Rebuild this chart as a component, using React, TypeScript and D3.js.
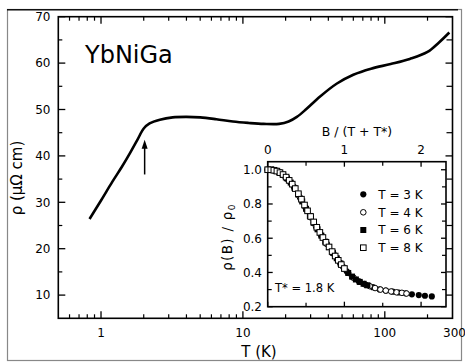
import React from "react";
import * as d3 from "d3";

// ---- Main curve: resistivity vs temperature ----
const mainT = [0.83, 1.0, 1.2, 1.4, 1.6, 1.8, 2.0, 2.2, 2.6, 3.2, 4.0, 5.0, 6.5, 8.5, 11, 14, 18, 21, 24, 28, 35, 46, 60, 80, 110, 150, 200, 240, 285];
const mainRho = [26.4, 30.4, 34.4, 37.6, 40.6, 43.4, 45.9, 47.0, 47.8, 48.3, 48.4, 48.3, 47.9, 47.4, 47.1, 46.9, 46.9, 47.4, 48.4, 50.1, 52.8, 55.6, 57.5, 58.8, 59.8, 60.9, 62.4, 64.4, 66.6];
const mainXMajor = [1, 10, 100];
const mainXMinor = [0.6, 0.7, 0.8, 0.9, 2, 3, 4, 5, 6, 7, 8, 9, 20, 30, 40, 50, 60, 70, 80, 90, 200];
const mainXLabels = ["1", "10", "100", "300"];
const mainXLabelVals = [1, 10, 100, 300];
const mainYMajor = [10, 20, 30, 40, 50, 60, 70];
const mainYMinor = [15, 25, 35, 45, 55, 65];
const arrowT = 2.03;
const arrowFrom = 36.0;
const arrowTo = 43.5;

// ---- Inset: scaled magnetoresistance ----
const b3 = [0, 0.09, 0.17, 0.26, 0.34, 0.43, 0.51, 0.6, 0.69, 0.77, 0.86, 0.94, 1.03, 1.11, 1.2, 1.28, 1.37, 1.46, 1.54, 1.63, 1.71, 1.8, 1.88, 1.97, 2.05, 2.14];
const r3 = [1.0, 0.997, 0.98, 0.945, 0.9, 0.83, 0.764, 0.69, 0.622, 0.567, 0.509, 0.458, 0.407, 0.372, 0.345, 0.328, 0.314, 0.301, 0.294, 0.288, 0.283, 0.278, 0.272, 0.268, 0.264, 0.26];
const b4 = [0, 0.07, 0.14, 0.21, 0.28, 0.35, 0.42, 0.49, 0.56, 0.63, 0.7, 0.77, 0.84, 0.91, 0.98, 1.05, 1.12, 1.19, 1.26, 1.33, 1.4, 1.47, 1.54, 1.61, 1.68, 1.75, 1.81];
const r4 = [1.0, 0.999, 0.988, 0.966, 0.935, 0.893, 0.839, 0.781, 0.722, 0.667, 0.615, 0.567, 0.521, 0.477, 0.434, 0.397, 0.369, 0.348, 0.332, 0.32, 0.309, 0.3, 0.294, 0.289, 0.284, 0.281, 0.277];
const b6 = [0, 0.05, 0.1, 0.15, 0.2, 0.25, 0.3, 0.35, 0.4, 0.45, 0.5, 0.55, 0.6, 0.65, 0.7, 0.75, 0.8, 0.85, 0.9, 0.95, 1.0, 1.05, 1.1, 1.15, 1.2, 1.25, 1.3];
const r6 = [1.0, 1.0, 0.995, 0.985, 0.97, 0.95, 0.925, 0.893, 0.855, 0.815, 0.772, 0.73, 0.69, 0.652, 0.615, 0.58, 0.548, 0.515, 0.483, 0.452, 0.423, 0.397, 0.376, 0.359, 0.345, 0.334, 0.325];
const b8 = [0, 0.04, 0.08, 0.12, 0.16, 0.2, 0.24, 0.28, 0.32, 0.36, 0.4, 0.44, 0.48, 0.52, 0.56, 0.6, 0.64, 0.68, 0.72, 0.76, 0.8, 0.84, 0.88, 0.92, 0.96, 1.0];
const r8 = [1.0, 1.0, 0.997, 0.992, 0.983, 0.972, 0.957, 0.938, 0.916, 0.89, 0.86, 0.828, 0.794, 0.76, 0.727, 0.695, 0.664, 0.634, 0.604, 0.576, 0.549, 0.522, 0.496, 0.471, 0.446, 0.423];
const insetXMajor = [0, 1, 2];
const insetXMinor = [0.5, 1.5];
const insetYMajor = [0.2, 0.4, 0.6, 0.8, 1.0];
const insetYMinor = [0.3, 0.5, 0.7, 0.9];
const legendLabels = ["T = 3 K", "T = 4 K", "T = 6 K", "T = 8 K"];

const FONT = "'DejaVu Sans', sans-serif";

type Marker = "fcircle" | "ocircle" | "fsquare" | "osquare";
const markers: Marker[] = ["fcircle", "ocircle", "fsquare", "osquare"];

function Mark({ kind, x, y }: { kind: Marker; x: number; y: number }) {
  if (kind === "fcircle") return <circle cx={x} cy={y} r={3.1} fill="#000" />;
  if (kind === "ocircle") return <circle cx={x} cy={y} r={2.8} fill="#fff" stroke="#000" strokeWidth={1} />;
  if (kind === "fsquare") return <rect x={x - 3} y={y - 3} width={6} height={6} fill="#000" />;
  return <rect x={x - 2.8} y={y - 2.8} width={5.6} height={5.6} fill="#fff" stroke="#000" strokeWidth={1} />;
}

export default function App() {
  // main scales
  const L = 58.3, R = 452.5, T = 16.7, B = 318.3;
  const x = d3.scaleLog().domain([0.5, 300]).range([L, R]);
  const y = d3.scaleLinear().domain([5, 70]).range([B, T]);

  const mainData = mainT.map((t, i) => [t, mainRho[i]] as [number, number]);
  const line = d3
    .line<[number, number]>()
    .x((d) => x(d[0]))
    .y((d) => y(d[1]))
    .curve(d3.curveCatmullRom.alpha(0.5));

  // inset scales
  const iL = 267.7, iR = 446, iT = 161.7, iB = 306.7;
  const xi = d3.scaleLinear().domain([0, 2.325]).range([iL, iR]);
  const yi = d3.scaleLinear().domain([0.2, 1.047]).range([iB, iT]);

  const series = [
    { b: b3, r: r3 },
    { b: b4, r: r4 },
    { b: b6, r: r6 },
    { b: b8, r: r8 },
  ];

  const majLen = 7, minLen = 4;
  const ax = "#000";
  const aw = 1.6;

  const ax_ = x(arrowT);

  return (
    <svg
      width={465}
      height={363}
      style={{ position: "absolute", left: 0, top: 0, background: "#fff" }}
      fontFamily={FONT}
    >
      <rect x={0} y={0} width={465} height={363} fill="#fff" />
      {/* outer frame */}
      <rect x={7.5} y={9.5} width={454} height={351} fill="none" stroke="#888" strokeWidth={1.2} />
      <line x1={7} x2={458} y1={9.8} y2={9.8} stroke="#111" strokeWidth={1.5} />

      {/* main ticks */}
      {mainXMajor.map((v) => (
        <g key={"xM" + v}>
          <line x1={x(v)} x2={x(v)} y1={B} y2={B - majLen} stroke={ax} strokeWidth={1.3} />
          <line x1={x(v)} x2={x(v)} y1={T} y2={T + majLen} stroke={ax} strokeWidth={1.3} />
        </g>
      ))}
      {mainXMinor.map((v) => (
        <g key={"xm" + v}>
          <line x1={x(v)} x2={x(v)} y1={B} y2={B - minLen} stroke={ax} strokeWidth={1.2} />
          <line x1={x(v)} x2={x(v)} y1={T} y2={T + minLen} stroke={ax} strokeWidth={1.2} />
        </g>
      ))}
      {mainYMajor.map((v) => (
        <g key={"yM" + v}>
          <line x1={L} x2={L + majLen} y1={y(v)} y2={y(v)} stroke={ax} strokeWidth={1.3} />
          <line x1={R} x2={R - majLen} y1={y(v)} y2={y(v)} stroke={ax} strokeWidth={1.3} />
        </g>
      ))}
      {mainYMinor.map((v) => (
        <g key={"ym" + v}>
          <line x1={L} x2={L + minLen} y1={y(v)} y2={y(v)} stroke={ax} strokeWidth={1.2} />
          <line x1={R} x2={R - majLen + 1} y1={y(v)} y2={y(v)} stroke={ax} strokeWidth={1.2} />
        </g>
      ))}
      <rect x={L} y={T} width={R - L} height={B - T} fill="none" stroke={ax} strokeWidth={aw} />

      {/* main tick labels */}
      {mainYMajor.map((v) => (
        <text key={"yl" + v} x={50.5} y={y(v)} dy="0.36em" textAnchor="end" fontSize={12}>
          {v}
        </text>
      ))}
      {mainXLabelVals.map((v, i) => (
        <text key={"xl" + v} x={v === 300 ? x(v) + 2 : x(v)} y={337} textAnchor="middle" fontSize={12}>
          {mainXLabels[i]}
        </text>
      ))}
      <text x={259} y={357} textAnchor="middle" fontSize={15}>
        T (K)
      </text>
      <text transform="translate(22,178) rotate(-90)" textAnchor="middle" fontSize={15}>
        ρ (μΩ cm)
      </text>
      <text x={85} y={62.5} fontSize={24}>
        YbNiGa
      </text>

      {/* main curve */}
      <path d={line(mainData) || ""} fill="none" stroke="#000" strokeWidth={2.6} strokeLinejoin="round" />

      {/* arrow */}
      <line x1={ax_} x2={ax_} y1={y(arrowFrom)} y2={y(arrowTo) + 7} stroke="#000" strokeWidth={1.5} />
      <path
        d={`M${ax_},${y(arrowTo)} L${ax_ - 3},${y(arrowTo) + 9} L${ax_ + 3},${y(arrowTo) + 9} Z`}
        fill="#000"
      />

      {/* inset */}
      <rect x={iL} y={iT} width={iR - iL} height={iB - iT} fill="#fff" />
      {insetXMajor.map((v) => (
        <g key={"ixM" + v}>
          <line x1={xi(v)} x2={xi(v)} y1={iT} y2={iT + 5} stroke={ax} strokeWidth={1.3} />
          <line x1={xi(v)} x2={xi(v)} y1={iB} y2={iB - 5} stroke={ax} strokeWidth={1.3} />
          <text x={xi(v)} y={153.5} textAnchor="middle" fontSize={12}>
            {v}
          </text>
        </g>
      ))}
      {insetXMinor.map((v) => (
        <g key={"ixm" + v}>
          <line x1={xi(v)} x2={xi(v)} y1={iT} y2={iT + 4} stroke={ax} strokeWidth={1.2} />
          <line x1={xi(v)} x2={xi(v)} y1={iB} y2={iB - 4} stroke={ax} strokeWidth={1.2} />
        </g>
      ))}
      {insetYMajor.map((v) => (
        <g key={"iyM" + v}>
          <line x1={iL} x2={iL + 5} y1={yi(v)} y2={yi(v)} stroke={ax} strokeWidth={1.3} />
          <line x1={iR} x2={iR - 5} y1={yi(v)} y2={yi(v)} stroke={ax} strokeWidth={1.3} />
          <text x={262} y={yi(v)} dy="0.36em" textAnchor="end" fontSize={12}>
            {v.toFixed(1)}
          </text>
        </g>
      ))}
      {insetYMinor.map((v) => (
        <g key={"iym" + v}>
          <line x1={iL} x2={iL + 4} y1={yi(v)} y2={yi(v)} stroke={ax} strokeWidth={1.2} />
          <line x1={iR} x2={iR - 4} y1={yi(v)} y2={yi(v)} stroke={ax} strokeWidth={1.2} />
        </g>
      ))}
      <rect x={iL} y={iT} width={iR - iL} height={iB - iT} fill="none" stroke={ax} strokeWidth={aw} />
      <text x={357} y={136} textAnchor="middle" fontSize={12.5}>
        B / (T + T*)
      </text>
      <text transform="translate(232,237) rotate(-90)" textAnchor="middle" fontSize={13.5} letterSpacing={1.3}>
        ρ(B) / ρ<tspan fontSize={9} dy={3}>0</tspan>
      </text>
      <text x={275} y={291.5} fontSize={11.5}>
        T* = 1.8 K
      </text>

      {/* inset data */}
      {series.map((s, si) => (
        <g key={"s" + si}>
          {s.b.map((bv, i) => (
            <Mark key={i} kind={markers[si]} x={xi(bv)} y={yi(s.r[i])} />
          ))}
        </g>
      ))}

      {/* legend */}
      {legendLabels.map((lab, i) => {
        const ly = [194.3, 212.3, 230, 247.7][i];
        return (
          <g key={"lg" + i}>
            <Mark kind={markers[i]} x={363.3} y={ly} />
            <text x={378.3} y={ly} dy="0.36em" fontSize={12}>
              {lab}
            </text>
          </g>
        );
      })}
    </svg>
  );
}
